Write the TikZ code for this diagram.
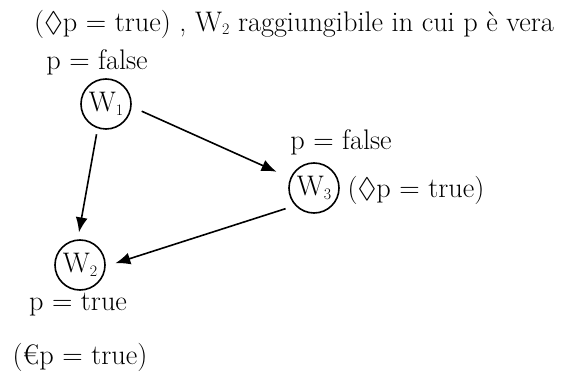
\documentclass[tikz,border=0pt]{standalone}
\usepackage{amssymb}
\usetikzlibrary{arrows.meta}
\newcommand{\wsub}[1]{\raisebox{-0.3ex}{\fontsize{16}{16}\selectfont #1}}

\begin{document}
\begin{tikzpicture}[x=1pt, y=-1pt, >={Latex[length=15pt,width=12pt]},
                    font=\fontsize{28.3}{32}\selectfont]
  \tikzstyle{world}=[draw, circle, line width=1.6pt, inner sep=0pt,
                     minimum size=50pt]
  \tikzstyle{lbl}=[inner sep=0pt]
  \tikzstyle{acc}=[->, line width=1.6pt]
  \useasboundingbox (0,0) rectangle (568,374);

  % --- mondi ---
  \node[world] (w1) at (106,104) {W\wsub{1}};
  \node[world] (w2) at (80,265)  {W\wsub{2}};
  \node[world] (w3) at (314,188) {W\wsub{3}};

  % --- etichette ---
  \node[lbl] (top) at (294,24) {($\Diamond$p = true) , W\wsub{2} raggiungibile in cui p è vera};
  \node[lbl] (f1) at (97,62)   {p = false};
  \node[lbl] (f3) at (341,142) {p = false};
  \node[lbl] (d3) at (416,190) {($\Diamond$p = true)};
  \node[lbl] (t2) at (78,305)  {p = true};
  \node[lbl] (b2) at (80,357)  {(€p = true)};

  % --- accessibilita ---
  \draw[acc, shorten <=11pt, shorten >=15pt] (w1.-6) -- (w3.157);
  \draw[acc, shorten <=6pt, shorten >=7pt] (w1.-109) -- (w2.95);
  \draw[acc, shorten <=10pt, shorten >=10pt] (w3.-137) -- (w2.-3);
\end{tikzpicture}
\end{document}
